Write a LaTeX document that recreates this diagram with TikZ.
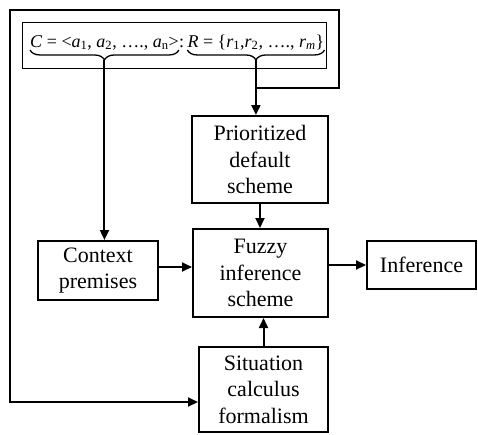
\documentclass[tikz,border=0pt]{standalone}
\usepackage{fontspec}
\setmainfont{Liberation Serif}
\usetikzlibrary{arrows.meta,decorations.pathreplacing}

\newcommand{\boxfont}{\fontsize{22}{26.5}\selectfont}
\newcommand{\exprfont}{\fontsize{18}{22}\selectfont}
\newcommand{\sub}[1]{\textsubscript{#1}}

\tikzset{
  block/.style={draw, line width=2pt, align=center, inner sep=0pt,
                font=\boxfont},
  wire/.style={line width=2pt},
  arr/.style={wire, -{Triangle[length=10pt,width=9pt]}},
  formula/.style={inner sep=0pt, font=\exprfont, anchor=base west},
  bracestyle/.style={line width=1.3pt,
                     decorate, decoration={brace, mirror, amplitude=10pt}}
}

\begin{document}
\begin{tikzpicture}[x=1pt, y=-1pt]
  \useasboundingbox (0,0) rectangle (478,434);

  % frame around the premise expression
  \node[draw, line width=1pt, minimum width=304pt, minimum height=46pt,
        inner sep=0pt] (exprbox) at (174,45) {};

  % the expression, split so each part can carry its own brace
  \node[formula] (cpart) at (30,47)
    {\textit{C} = <\textit{a}\sub{1}, \textit{a}\sub{2}, …., \textit{a}\sub{n}>};
  \node[formula] (colon) at (cpart.base east) {:\,};
  \node[formula] (rpart) at (colon.base east)
    {\textit{R} = \{\textit{r}\sub{1},\textit{r}\sub{2}, …., \textit{r}\sub{\textit{m}}\}};

  \draw[bracestyle] (cpart.south west) -- (cpart.south east);
  \draw[bracestyle] (rpart.south west) -- (rpart.south east);
  \coordinate (ctip) at ([yshift=-10pt]cpart.south);
  \coordinate (rtip) at ([yshift=-10pt]rpart.south);

  % processing blocks
  \node[block, minimum width=136pt, minimum height=87pt] (prio) at (260,159.5)
    {Prioritized\\default\\scheme};
  \node[block, minimum width=135pt, minimum height=88pt] (fuzzy) at (260.5,273)
    {Fuzzy\\inference\\scheme};
  \node[block, minimum width=120pt, minimum height=59pt] (context) at (98,270.5)
    {Context\\premises};
  \node[block, minimum width=109pt, minimum height=48pt] (inference) at (421.5,265)
    {Inference};
  \node[block, minimum width=129pt, minimum height=85pt] (situation) at (263.5,389.5)
    {Situation\\calculus\\formalism};

  % connectors
  \draw[arr] (ctip) -- (ctip |- context.north);
  \draw[arr] (rtip) -- (rtip |- prio.north);
  \draw[arr] (prio.south) -- (prio.south |- fuzzy.north);
  \draw[arr] (context.east |- 0,267) -- (fuzzy.west |- 0,267);
  \draw[arr] (fuzzy.east |- inference.west) -- (inference.west);
  \draw[arr] (situation.north) -- (situation.north |- fuzzy.south);

  % feedback loop around the expression down to the situation calculus
  \coordinate (split) at (rtip |- 0,88);
  \coordinate (corner) at (10,402);
  \draw[arr] (split) -| (339,10) -| (corner) -- (corner -| situation.west);
\end{tikzpicture}
\end{document}
